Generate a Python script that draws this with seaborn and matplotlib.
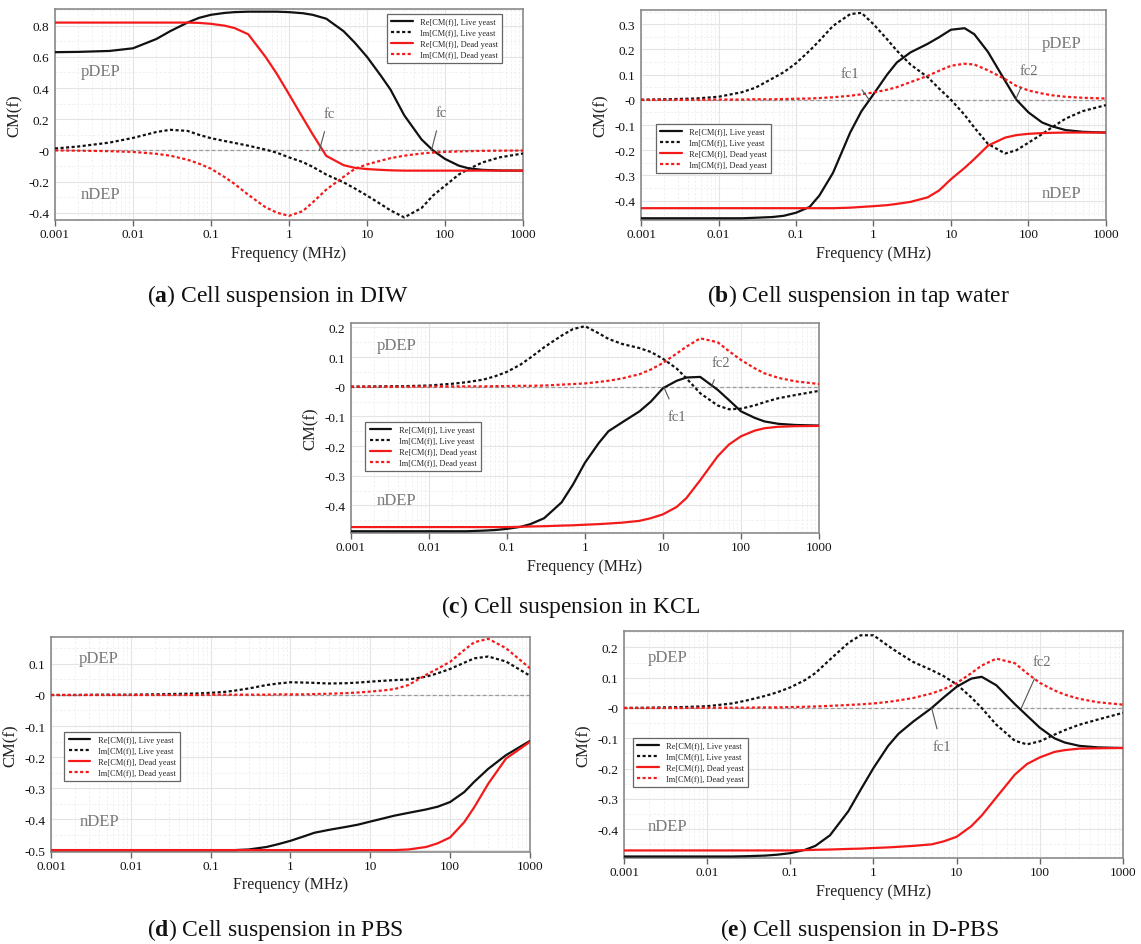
import matplotlib
matplotlib.use("Agg")
import matplotlib.pyplot as plt
from matplotlib.ticker import FixedLocator, LogLocator, NullFormatter, AutoMinorLocator
import seaborn as sns

# ---------------- data ----------------
FREQ_MHZ = [0.001, 0.002, 0.005, 0.01, 0.02, 0.03, 0.05, 0.07, 0.1, 0.15, 0.2, 0.3,
            0.5, 0.7, 1, 1.5, 2, 3, 5, 7, 10, 15, 20, 30, 50, 70, 100, 150, 200, 300, 500, 1000]

SERIES_LABELS = ["Re[CM(f)], Live yeast", "Im[CM(f)], Live yeast",
                 "Re[CM(f)], Dead yeast", "Im[CM(f)], Dead yeast"]

# (a) DIW
A_RE_LIVE = [0.63, 0.632, 0.638, 0.655, 0.715, 0.765, 0.82, 0.85, 0.87, 0.882, 0.887, 0.89,
             0.89, 0.89, 0.887, 0.88, 0.87, 0.845, 0.765, 0.69, 0.6, 0.48, 0.39, 0.225, 0.07, 0.0,
             -0.055, -0.098, -0.115, -0.125, -0.129, -0.13]
A_IM_LIVE = [0.012, 0.025, 0.05, 0.08, 0.118, 0.132, 0.125, 0.1, 0.078, 0.06, 0.048, 0.03,
             0.005, -0.015, -0.045, -0.075, -0.105, -0.155, -0.205, -0.245, -0.29, -0.345, -0.385, -0.43,
             -0.37, -0.29, -0.227, -0.155, -0.12, -0.078, -0.045, -0.02]
A_RE_DEAD = [0.82, 0.82, 0.82, 0.82, 0.82, 0.82, 0.82, 0.818, 0.812, 0.80, 0.785, 0.745,
             0.6, 0.49, 0.36, 0.21, 0.105, -0.035, -0.095, -0.112, -0.12, -0.125, -0.128, -0.13,
             -0.13, -0.13, -0.13, -0.13, -0.13, -0.13, -0.13, -0.13]
A_IM_DEAD = [0.0, -0.002, -0.005, -0.01, -0.022, -0.034, -0.06, -0.085, -0.118, -0.172, -0.215, -0.285,
             -0.365, -0.4, -0.42, -0.39, -0.335, -0.252, -0.17, -0.118, -0.09, -0.066, -0.05, -0.034,
             -0.02, -0.014, -0.01, -0.007, -0.005, -0.003, -0.002, -0.001]

# (b) tap water
B_RE_LIVE = [-0.47, -0.47, -0.47, -0.47, -0.47, -0.468, -0.465, -0.46, -0.448, -0.425, -0.38, -0.29,
             -0.13, -0.045, 0.022, 0.1, 0.148, 0.188, 0.222, 0.248, 0.278, 0.284, 0.26, 0.19,
             0.075, 0.0, -0.05, -0.09, -0.105, -0.12, -0.127, -0.13]
B_IM_LIVE = [0.0, 0.002, 0.005, 0.012, 0.03, 0.048, 0.085, 0.11, 0.145, 0.195, 0.234, 0.293,
             0.34, 0.345, 0.3, 0.24, 0.195, 0.14, 0.09, 0.045, 0.0, -0.06, -0.11, -0.175,
             -0.213, -0.2, -0.17, -0.136, -0.11, -0.075, -0.045, -0.021]
B_RE_DEAD = [-0.43, -0.43, -0.43, -0.43, -0.43, -0.43, -0.43, -0.43, -0.43, -0.43, -0.43, -0.43,
             -0.428, -0.425, -0.422, -0.418, -0.413, -0.405, -0.387, -0.36, -0.315, -0.27, -0.235, -0.182,
             -0.15, -0.14, -0.135, -0.132, -0.131, -0.13, -0.13, -0.13]
B_IM_DEAD = [0.0, 0.0, 0.0, 0.001, 0.001, 0.002, 0.002, 0.003, 0.004, 0.005, 0.007, 0.01,
             0.016, 0.022, 0.029, 0.04, 0.05, 0.07, 0.095, 0.115, 0.135, 0.143, 0.14, 0.117,
             0.082, 0.055, 0.037, 0.025, 0.018, 0.012, 0.008, 0.005]

# (c) KCL
C_RE_LIVE = [-0.487, -0.487, -0.487, -0.487, -0.487, -0.487, -0.485, -0.483, -0.479, -0.472, -0.463, -0.443,
             -0.39, -0.33, -0.256, -0.19, -0.15, -0.12, -0.083, -0.05, -0.005, 0.02, 0.031, 0.033,
             -0.01, -0.045, -0.083, -0.105, -0.117, -0.125, -0.129, -0.131]
C_IM_LIVE = [0.0, 0.001, 0.002, 0.004, 0.01, 0.015, 0.024, 0.035, 0.05, 0.075, 0.098, 0.133,
             0.172, 0.194, 0.204, 0.18, 0.161, 0.144, 0.13, 0.117, 0.094, 0.061, 0.028, -0.022,
             -0.063, -0.076, -0.074, -0.063, -0.052, -0.039, -0.028, -0.014]
C_RE_DEAD = [-0.473, -0.473, -0.473, -0.473, -0.473, -0.473, -0.473, -0.473, -0.473, -0.472, -0.471, -0.47,
             -0.468, -0.467, -0.465, -0.463, -0.461, -0.458, -0.452, -0.443, -0.43, -0.405, -0.375, -0.315,
             -0.235, -0.195, -0.167, -0.148, -0.14, -0.135, -0.133, -0.132]
C_IM_DEAD = [0.0, 0.0, 0.0, 0.001, 0.001, 0.001, 0.001, 0.002, 0.002, 0.003, 0.003, 0.004,
             0.007, 0.009, 0.011, 0.016, 0.02, 0.028, 0.042, 0.058, 0.08, 0.112, 0.135, 0.163,
             0.15, 0.12, 0.09, 0.062, 0.045, 0.03, 0.018, 0.009]

# (d) PBS
D_RE_LIVE = [-0.5, -0.5, -0.5, -0.5, -0.5, -0.5, -0.5, -0.5, -0.5, -0.5, -0.5, -0.498,
             -0.49, -0.481, -0.47, -0.455, -0.444, -0.435, -0.425, -0.418, -0.408, -0.397, -0.389, -0.38,
             -0.369, -0.36, -0.345, -0.313, -0.28, -0.238, -0.194, -0.148]
D_IM_LIVE = [0.0, 0.0, 0.001, 0.001, 0.002, 0.003, 0.004, 0.005, 0.007, 0.01, 0.014, 0.021,
             0.032, 0.037, 0.041, 0.04, 0.039, 0.037, 0.038, 0.04, 0.043, 0.046, 0.048, 0.05,
             0.059, 0.07, 0.084, 0.104, 0.118, 0.124, 0.108, 0.062]
D_RE_DEAD = [-0.5, -0.5, -0.5, -0.5, -0.5, -0.5, -0.5, -0.5, -0.5, -0.5, -0.5, -0.5,
             -0.5, -0.5, -0.5, -0.5, -0.5, -0.5, -0.5, -0.5, -0.5, -0.5, -0.5, -0.498,
             -0.49, -0.478, -0.459, -0.41, -0.362, -0.286, -0.205, -0.151]
D_IM_DEAD = [0.0, 0.0, 0.0, 0.0, 0.0, 0.0, 0.0, 0.0, 0.001, 0.001, 0.001, 0.001,
             0.001, 0.002, 0.002, 0.002, 0.003, 0.004, 0.006, 0.008, 0.011, 0.015, 0.019, 0.032,
             0.065, 0.085, 0.107, 0.145, 0.17, 0.181, 0.151, 0.086]

# (e) D-PBS
E_RE_LIVE = [-0.49, -0.49, -0.49, -0.49, -0.49, -0.489, -0.487, -0.484, -0.479, -0.468, -0.455, -0.42,
             -0.34, -0.27, -0.198, -0.125, -0.085, -0.045, 0.0, 0.035, 0.07, 0.097, 0.103, 0.075,
             0.013, -0.025, -0.065, -0.1, -0.114, -0.125, -0.13, -0.132]
E_IM_LIVE = [0.0, 0.001, 0.003, 0.006, 0.015, 0.025, 0.04, 0.052, 0.068, 0.092, 0.115, 0.16,
             0.215, 0.24, 0.24, 0.205, 0.182, 0.152, 0.125, 0.105, 0.078, 0.035, 0.0, -0.055,
             -0.108, -0.12, -0.11, -0.088, -0.073, -0.055, -0.038, -0.016]
E_RE_DEAD = [-0.47, -0.47, -0.47, -0.47, -0.47, -0.47, -0.47, -0.47, -0.47, -0.469, -0.468, -0.467,
             -0.465, -0.464, -0.462, -0.46, -0.458, -0.455, -0.45, -0.44, -0.425, -0.39, -0.355, -0.295,
             -0.22, -0.185, -0.163, -0.145, -0.139, -0.134, -0.133, -0.132]
E_IM_DEAD = [0.0, 0.0, 0.0, 0.001, 0.001, 0.001, 0.002, 0.002, 0.003, 0.004, 0.005, 0.007,
             0.01, 0.012, 0.015, 0.02, 0.025, 0.033, 0.048, 0.062, 0.082, 0.115, 0.14, 0.163,
             0.148, 0.115, 0.083, 0.058, 0.044, 0.03, 0.019, 0.011]

X_TICKS = [0.001, 0.01, 0.1, 1, 10, 100, 1000]
X_TICK_LABELS = ["0.001", "0.01", "0.1", "1", "10", "100", "1000"]

A_Y_TICKS = [0.8, 0.6, 0.4, 0.2, 0.0, -0.2, -0.4]
A_Y_LABELS = ["0.8", "0.6", "0.4", "0.2", "-0", "-0.2", "-0.4"]
B_Y_TICKS = [0.3, 0.2, 0.1, 0.0, -0.1, -0.2, -0.3, -0.4]
B_Y_LABELS = ["0.3", "0.2", "0.1", "-0", "-0.1", "-0.2", "-0.3", "-0.4"]
C_Y_TICKS = [0.2, 0.1, 0.0, -0.1, -0.2, -0.3, -0.4]
C_Y_LABELS = ["0.2", "0.1", "-0", "-0.1", "-0.2", "-0.3", "-0.4"]
D_Y_TICKS = [0.1, 0.0, -0.1, -0.2, -0.3, -0.4, -0.5]
D_Y_LABELS = ["0.1", "-0", "-0.1", "-0.2", "-0.3", "-0.4", "-0.5"]
E_Y_TICKS = [0.2, 0.1, 0.0, -0.1, -0.2, -0.3, -0.4]
E_Y_LABELS = ["0.2", "0.1", "-0", "-0.1", "-0.2", "-0.3", "-0.4"]

CAPTIONS = [r"($\mathbf{a}$) Cell suspension in DIW",
            r"($\mathbf{b}$) Cell suspension in tap water",
            r"($\mathbf{c}$) Cell suspension in KCL",
            r"($\mathbf{d}$) Cell suspension in PBS",
            r"($\mathbf{e}$) Cell suspension in D-PBS"]

# ---------------- style ----------------
sns.set_style("white")
plt.rcParams["font.family"] = ["Liberation Serif", "DejaVu Serif"]
plt.rcParams["mathtext.fontset"] = "custom"
plt.rcParams["mathtext.rm"] = "Liberation Serif"
plt.rcParams["mathtext.bf"] = "Liberation Serif:bold"

BLACK = "#111111"
RED = "#f41a1a"
DOT = (0, (1.4, 1.1))
SERIES_STYLE = [(BLACK, "-"), (BLACK, DOT), (RED, "-"), (RED, DOT)]

fig = plt.figure(figsize=(11.41, 9.45), dpi=100)

PANELS = [
    dict(rect=[0.0482, 0.7661, 0.4102, 0.2228], data=[A_RE_LIVE, A_IM_LIVE, A_RE_DEAD, A_IM_DEAD],
         ylim=(-0.447, 0.904), yt=A_Y_TICKS, ytl=A_Y_LABELS,
         leg=("upper right", (0.956, 0.979)),
         dep=[(0.0038, 0.51, "pDEP"), (0.0038, -0.279, "nDEP")],
         fc=[("fc", (2.45, 0.0), (3.3, 0.235)), ("fc", (67, 0.0), (89, 0.24))],
         cap=(0.2437, 0.687, CAPTIONS[0])),
    dict(rect=[0.5618, 0.7661, 0.4075, 0.2222], data=[B_RE_LIVE, B_IM_LIVE, B_RE_DEAD, B_IM_DEAD],
         ylim=(-0.477, 0.356), yt=B_Y_TICKS, ytl=B_Y_LABELS,
         leg=("upper left", (0.032, 0.457)),
         dep=[(270, 0.227, "pDEP"), (265, -0.368, "nDEP")],
         fc=[("fc1", (0.88, 0.0), (0.5, 0.105)), ("fc2", (68, 0.0), (100, 0.115))],
         cap=(0.752, 0.687, CAPTIONS[1])),
    dict(rect=[0.3076, 0.4349, 0.4102, 0.2222], data=[C_RE_LIVE, C_IM_LIVE, C_RE_DEAD, C_IM_DEAD],
         ylim=(-0.493, 0.2145), yt=C_Y_TICKS, ytl=C_Y_LABELS,
         leg=("upper left", (0.031, 0.529)),
         dep=[(0.0038, 0.139, "pDEP"), (0.0038, -0.383, "nDEP")],
         fc=[("fc2", (42, 0.0), (55, 0.083)), ("fc1", (10.2, 0.0), (15, -0.1))],
         cap=(0.5004, 0.358, CAPTIONS[2])),
    dict(rect=[0.0447, 0.0974, 0.4198, 0.2275], data=[D_RE_LIVE, D_IM_LIVE, D_RE_DEAD, D_IM_DEAD],
         ylim=(-0.506, 0.187), yt=D_Y_TICKS, ytl=D_Y_LABELS,
         leg=("upper left", (0.028, 0.558)),
         dep=[(0.004, 0.118, "pDEP"), (0.004, -0.405, "nDEP")],
         fc=[],
         cap=(0.241, 0.016, CAPTIONS[3])),
    dict(rect=[0.5469, 0.0910, 0.4373, 0.2402], data=[E_RE_LIVE, E_IM_LIVE, E_RE_DEAD, E_IM_DEAD],
         ylim=(-0.495, 0.254), yt=E_Y_TICKS, ytl=E_Y_LABELS,
         leg=("upper left", (0.018, 0.529)),
         dep=[(0.0033, 0.168, "pDEP"), (0.0033, -0.388, "nDEP")],
         fc=[("fc1", (5.0, 0.0), (6.6, -0.128)), ("fc2", (60, 0.0), (107, 0.154))],
         cap=(0.753, 0.016, CAPTIONS[4])),
]

for p in PANELS:
    ax = fig.add_axes(p["rect"])
    ax.set_xscale("log")
    ax.set_axisbelow(True)
    ax.axhline(0.0, color="#9a9a9a", lw=0.9, ls=(0, (3, 2)), zorder=1)
    for vals, label, (col, ls) in zip(p["data"], SERIES_LABELS, SERIES_STYLE):
        sns.lineplot(x=FREQ_MHZ, y=vals, ax=ax, color=col, linestyle=ls, linewidth=1.6,
                     label=label, estimator=None, sort=False, zorder=3)
    ax.set_xlim(0.001, 1000)
    ax.set_ylim(*p["ylim"])
    ax.xaxis.set_major_locator(FixedLocator(X_TICKS))
    ax.set_xticklabels(X_TICK_LABELS)
    ax.xaxis.set_minor_locator(LogLocator(base=10, subs=[2, 3, 4, 5, 6, 7, 8, 9], numticks=20))
    ax.xaxis.set_minor_formatter(NullFormatter())
    ax.yaxis.set_major_locator(FixedLocator(p["yt"]))
    ax.set_yticklabels(p["ytl"])
    ax.yaxis.set_minor_locator(AutoMinorLocator(2))
    ax.grid(which="major", color="#e4e4e4", lw=0.8)
    ax.grid(which="minor", color="#efefef", lw=0.6, ls=(0, (3, 2)))
    for s in ax.spines.values():
        s.set_color("#8a8a8a")
        s.set_linewidth(1.2)
    ax.tick_params(axis="x", which="major", length=4, width=1, color="#666666",
                   pad=2, labelsize=9.5, labelcolor="#111111", bottom=True)
    ax.tick_params(axis="x", which="minor", length=0)
    ax.tick_params(axis="y", which="both", length=0, pad=4, labelsize=9.5, labelcolor="#111111")
    ax.set_xlabel("Frequency (MHz)", fontsize=11.5, labelpad=3, color="#222222")
    ax.set_ylabel("CM(f)", fontsize=12, labelpad=4, color="#222222")

    loc, anchor = p["leg"]
    leg = ax.legend(loc=loc, bbox_to_anchor=anchor, fontsize=6, frameon=True, fancybox=False,
                    edgecolor="#666666", framealpha=1, handlelength=2.6, labelspacing=0.35,
                    borderpad=0.5, handletextpad=0.9, borderaxespad=0.0)
    leg.get_frame().set_linewidth(0.9)

    for (x, y, t) in p["dep"]:
        ax.text(x, y, t, color="#7a7a7a", fontsize=12, ha="center", va="center", zorder=4)
    for (t, xy, xyt) in p["fc"]:
        ax.annotate(t, xy=xy, xytext=xyt, ha="center", va="center", fontsize=10.5, color="#6a6a6a",
                    arrowprops=dict(arrowstyle="-", color="#555555", lw=0.8, shrinkA=6, shrinkB=0),
                    zorder=5)

    cx, cy, ct = p["cap"]
    fig.text(cx, cy, ct, ha="center", va="center", fontsize=17, color="#111111")

fig.savefig("out.png", dpi=100, facecolor="white")
